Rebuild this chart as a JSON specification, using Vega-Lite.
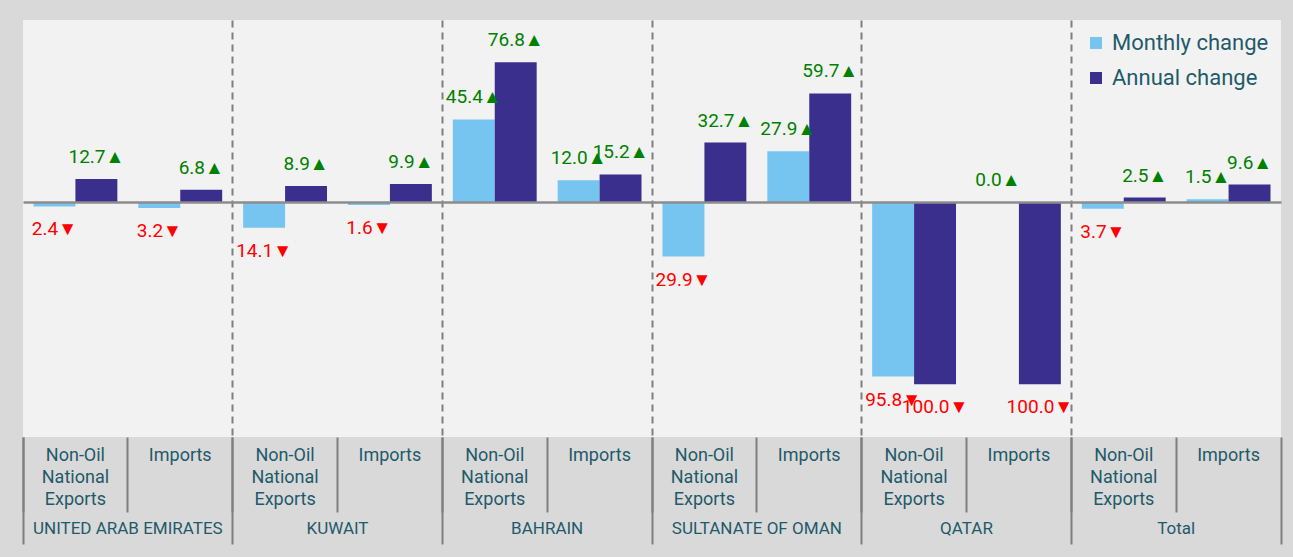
{
  "$schema": "https://vega.github.io/schema/vega-lite/v6.json",
  "width": 1258,
  "height": 417,
  "autosize": {"type": "none"},
  "padding": {"left": 23, "top": 20, "right": 12, "bottom": 120},
  "background": "#d9d9d9",
  "config": {
    "view": {"fill": "#f2f2f2", "stroke": null},
    "font": "Roboto, sans-serif"
  },
  "data": {
    "values": [
      {"country": "UNITED ARAB EMIRATES", "type": "Non-Oil National Exports", "series": "Monthly change", "value": -2.4},
      {"country": "UNITED ARAB EMIRATES", "type": "Non-Oil National Exports", "series": "Annual change", "value": 12.7},
      {"country": "UNITED ARAB EMIRATES", "type": "Imports", "series": "Monthly change", "value": -3.2},
      {"country": "UNITED ARAB EMIRATES", "type": "Imports", "series": "Annual change", "value": 6.8},
      {"country": "KUWAIT", "type": "Non-Oil National Exports", "series": "Monthly change", "value": -14.1},
      {"country": "KUWAIT", "type": "Non-Oil National Exports", "series": "Annual change", "value": 8.9},
      {"country": "KUWAIT", "type": "Imports", "series": "Monthly change", "value": -1.6},
      {"country": "KUWAIT", "type": "Imports", "series": "Annual change", "value": 9.9},
      {"country": "BAHRAIN", "type": "Non-Oil National Exports", "series": "Monthly change", "value": 45.4},
      {"country": "BAHRAIN", "type": "Non-Oil National Exports", "series": "Annual change", "value": 76.8},
      {"country": "BAHRAIN", "type": "Imports", "series": "Monthly change", "value": 12.0},
      {"country": "BAHRAIN", "type": "Imports", "series": "Annual change", "value": 15.2},
      {"country": "SULTANATE OF OMAN", "type": "Non-Oil National Exports", "series": "Monthly change", "value": -29.9},
      {"country": "SULTANATE OF OMAN", "type": "Non-Oil National Exports", "series": "Annual change", "value": 32.7},
      {"country": "SULTANATE OF OMAN", "type": "Imports", "series": "Monthly change", "value": 27.9},
      {"country": "SULTANATE OF OMAN", "type": "Imports", "series": "Annual change", "value": 59.7},
      {"country": "QATAR", "type": "Non-Oil National Exports", "series": "Monthly change", "value": -95.8},
      {"country": "QATAR", "type": "Non-Oil National Exports", "series": "Annual change", "value": -100.0},
      {"country": "QATAR", "type": "Imports", "series": "Monthly change", "value": 0.0},
      {"country": "QATAR", "type": "Imports", "series": "Annual change", "value": -100.0},
      {"country": "Total", "type": "Non-Oil National Exports", "series": "Monthly change", "value": -3.7},
      {"country": "Total", "type": "Non-Oil National Exports", "series": "Annual change", "value": 2.5},
      {"country": "Total", "type": "Imports", "series": "Monthly change", "value": 1.5},
      {"country": "Total", "type": "Imports", "series": "Annual change", "value": 9.6}
    ]
  },
  "transform": [
    {"calculate": "datum.country + '|' + datum.type", "as": "cat"},
    {"calculate": "format(abs(datum.value), '.1f') + (datum.value >= 0 ? '▲' : '▼')", "as": "lbl"}
  ],
  "resolve": {"scale": {"x": "independent"}},
  "layer": [
    {
      "layer": [
        {
          "mark": {"type": "bar"},
          "encoding": {
            "x": {
              "field": "cat",
              "type": "nominal",
              "scale": {
                "domain": [
                  "UNITED ARAB EMIRATES|Non-Oil National Exports", "UNITED ARAB EMIRATES|Imports",
                  "KUWAIT|Non-Oil National Exports", "KUWAIT|Imports",
                  "BAHRAIN|Non-Oil National Exports", "BAHRAIN|Imports",
                  "SULTANATE OF OMAN|Non-Oil National Exports", "SULTANATE OF OMAN|Imports",
                  "QATAR|Non-Oil National Exports", "QATAR|Imports",
                  "Total|Non-Oil National Exports", "Total|Imports"
                ],
                "paddingInner": 0,
                "paddingOuter": 0
              },
              "axis": {
                "orient": "bottom",
                "title": null,
                "domain": false,
                "bandPosition": 0,
                "ticks": true,
                "tickSize": 75,
                "tickWidth": 2,
                "tickColor": "#7f7f7f",
                "grid": true,
                "gridDash": [7, 5],
                "gridWidth": 2,
                "gridColor": {
                  "condition": {"test": "indexof(datum.value, 'Non-Oil') >= 0 && indexof(datum.value, 'UNITED') < 0", "value": "#7f7f7f"},
                  "value": "transparent"
                },
                "labelAngle": 0,
                "labelOverlap": false,
                "labelExpr": "indexof(datum.value, 'Imports') >= 0 ? 'Imports' : ['Non-Oil', 'National', 'Exports']",
                "labelFontSize": 18,
                "labelColor": "#1f5a6a",
                "labelLineHeight": 22,
                "labelPadding": -66,
                "labelBaseline": "top"
              }
            },
            "xOffset": {
              "field": "series",
              "type": "nominal",
              "scale": {"domain": ["Monthly change", "Annual change"], "paddingInner": 0, "paddingOuter": 0.25}
            },
            "y": {
              "field": "value",
              "type": "quantitative",
              "scale": {"domain": [-129, 100], "nice": false, "zero": false},
              "axis": {
                "values": [0],
                "grid": true,
                "gridColor": "#8c8c8c",
                "gridWidth": 2.5,
                "labels": false,
                "ticks": false,
                "domain": false,
                "title": null,
                "zindex": 1
              }
            },
            "color": {
              "field": "series",
              "type": "nominal",
              "scale": {"domain": ["Monthly change", "Annual change"], "range": ["#75c5f0", "#3b2f8e"]},
              "legend": {
                "title": null,
                "orient": "top-right",
                "offset": 12,
                "symbolType": "square",
                "symbolSize": 144,
                "symbolStrokeWidth": 0,
                "labelFontSize": 22,
                "labelLimit": 300,
                "labelColor": "#1f5a6a",
                "labelOffset": 5,
                "rowPadding": 13
              }
            }
          }
        },
        {
          "transform": [{"filter": "datum.value >= 0"}],
          "mark": {"type": "text", "color": "#008000", "fontSize": 19, "dy": -22, "baseline": "middle"},
          "encoding": {
            "x": {"field": "cat", "type": "nominal"},
            "xOffset": {"field": "series", "type": "nominal"},
            "y": {"field": "value", "type": "quantitative"},
            "text": {"field": "lbl"}
          }
        },
        {
          "transform": [{"filter": "datum.value < 0"}],
          "mark": {"type": "text", "color": "#ff0000", "fontSize": 19, "dy": 23, "baseline": "middle"},
          "encoding": {
            "x": {"field": "cat", "type": "nominal"},
            "xOffset": {"field": "series", "type": "nominal"},
            "y": {"field": "value", "type": "quantitative"},
            "text": {"field": "lbl"}
          }
        }
      ]
    },
    {
      "transform": [{"filter": "datum.series == 'Monthly change' && datum.type == 'Imports'"}],
      "mark": {"type": "rule", "opacity": 0},
      "encoding": {
        "x": {
          "field": "country",
          "type": "nominal",
          "scale": {
            "domain": ["UNITED ARAB EMIRATES", "KUWAIT", "BAHRAIN", "SULTANATE OF OMAN", "QATAR", "Total"],
            "paddingInner": 0,
            "paddingOuter": 0
          },
          "axis": {
            "orient": "bottom",
            "title": null,
            "domain": false,
            "grid": false,
            "bandPosition": 1,
            "tickExtra": true,
            "ticks": true,
            "tickSize": 107,
            "tickWidth": 2,
            "tickColor": "#7f7f7f",
            "labelAngle": 0,
            "labelOverlap": false,
            "labelLimit": 400,
            "labelFontSize": 17,
            "labelColor": "#1f5a6a",
            "labelBaseline": "middle",
            "labelPadding": -16
          }
        }
      }
    }
  ]
}
